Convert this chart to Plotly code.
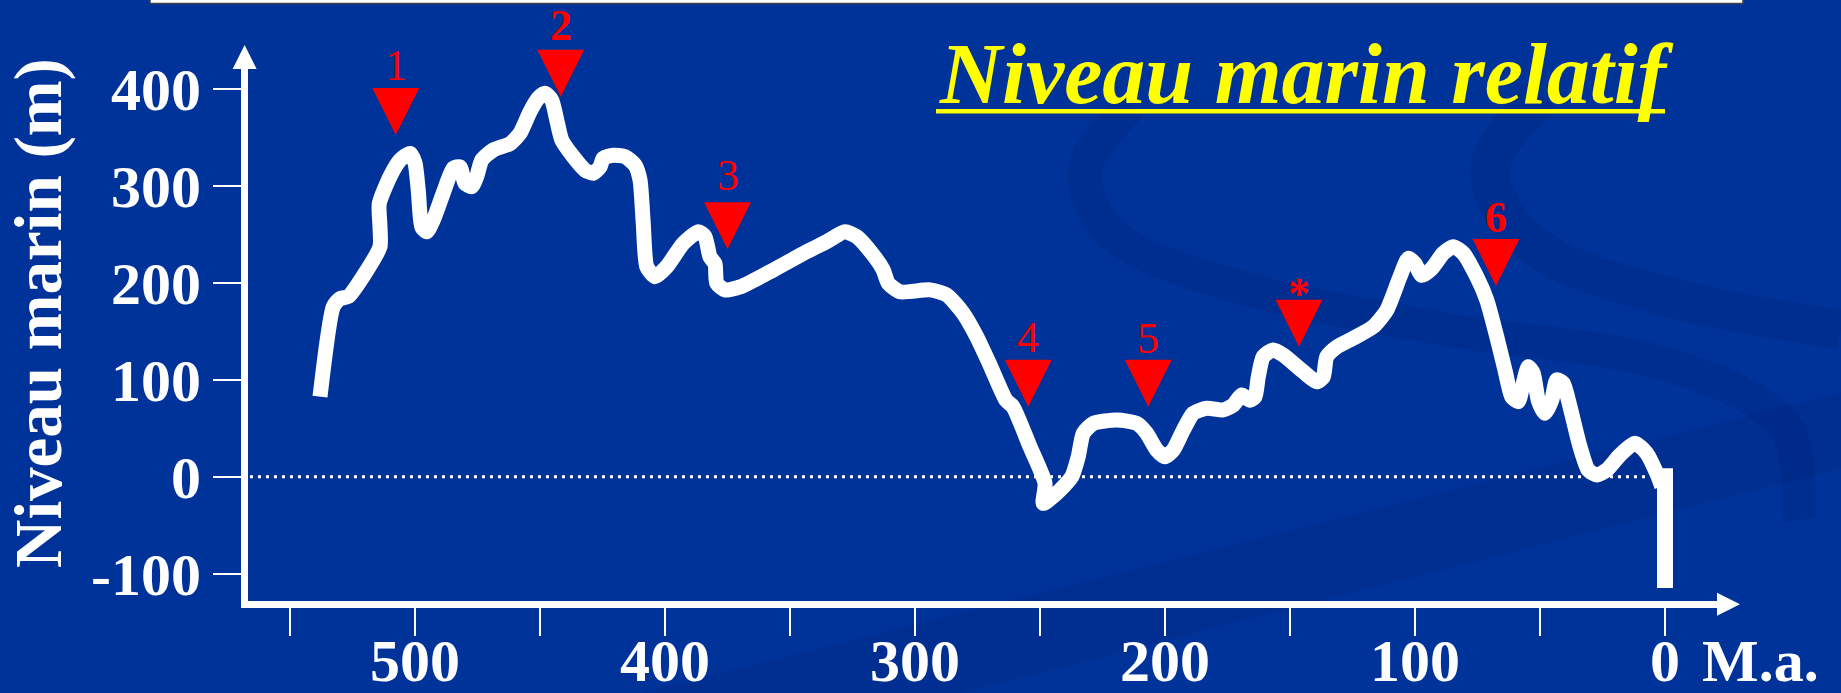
import plotly.graph_objects as go

# ---------------- data ----------------
age_ma = [538, 532.7, 530, 526.7, 520, 514, 514, 514.3, 510, 506, 502, 500, 498.7, 497.3,
          495.3, 492.7, 488.7, 484.7, 482, 480, 477.3, 475.3, 473.3, 468.7, 462, 458, 454,
          450.7, 448, 445.3, 443.3, 441.3, 436.7, 432, 428.7, 426, 424.7, 420.7, 416, 412,
          410, 408.7, 407.3, 404, 399.3, 392.7, 386.7, 384, 382, 380, 379.3, 376, 370,
          356.7, 343.3, 335.3, 328, 323.3, 316.7, 312.7, 310.7, 306, 294, 287.3, 280.7,
          275.3, 270, 263.6, 260.8, 254, 248, 248.7, 243.3, 237.3, 234.7, 232.7, 228.7,
          219.3, 211.3, 207.3, 203.3, 200, 196.7, 192.7, 188.7, 183.3, 176.7, 172.7, 169.3,
          166, 164, 162.7, 160.7, 156.7, 152.7, 144.7, 139.3, 136.7, 135.3, 131.3, 124.7,
          116.7, 111.3, 106, 102.7, 100, 97.3, 93.3, 88.7, 84.7, 80.7, 75.3, 71.3, 67.3,
          64, 61.3, 58.7, 56.7, 54.7, 52.7, 50.7, 48, 45.3, 43.3, 40.7, 38, 34, 30.7, 27.3,
          23.3, 18, 12, 7.3, 3.3, 1.3]
sea_level_m = [82.6, 175.6, 184, 186, 210, 237.6, 258, 282, 310, 327, 334, 324, 296, 258,
               253, 265, 293, 318.6, 320, 303, 299.6, 310, 327, 337.5, 344, 354.7, 377,
               391, 396, 389, 368.5, 347.8, 330.6, 316.8, 313.4, 320, 329, 332, 330.6, 322,
               306.5, 261.8, 217, 206.6, 217, 241, 253, 248, 227, 220, 199.8, 193, 196,
               213.5, 232.4, 242.8, 253, 248, 229, 213.5, 199.8, 191, 193, 187.7, 168.8,
               144.6, 115.4, 79, 72.3, 31, -6.8, -27.5, -17, 0, 20.7, 44.8, 55,
               58.6, 55, 44.8, 27.6, 20.7, 27.6, 48, 65.5, 70.7, 69, 74, 84.4,
               79, 82.6, 103, 124, 131, 125.7, 108.5, 98, 103, 124, 134, 143,
               155, 172, 206.6, 225.6, 220, 208, 215, 230.8, 237.6, 230.8, 206.6, 182.5, 144.6,
               110, 82.6, 77.5, 96.5, 113.6, 106.8, 79, 65.5, 79, 100, 96.5, 72.3, 31, 6.9, 1.8,
               6.9, 22.4, 34.5, 24.2, 3.5, -10]

present_bar_age = [0, 0]
present_bar_level = [8.7, -115]

zero_line_age = [566, 7]
zero_line_level = [0, 0]

event_labels = ["1", "2", "3", "4", "5", "*", "6"]
event_age = [507.7, 441.7, 375, 254.7, 206.7, 146.4, 67.6]
event_level = [353, 392.6, 235, 72.3, 72.3, 134.3, 197]

x_tickvals = [550, 500, 450, 400, 350, 300, 250, 200, 150, 100, 50, 0]
x_ticktext = ["", "500", "", "400", "", "300", "", "200", "", "100", "", "0"]
y_tickvals = [-100, 0, 100, 200, 300, 400]
y_ticktext = ["-100", "0", "100", "200", "300", "400"]

title_text = "Niveau marin relatif"
y_title_text = "Niveau marin (m)"
x_unit_text = "M.a."

# ---------------- layout geometry ----------------
W, H = 1841, 693
PL, PR, PT, PB = 248, 1720, 55, 601
X_RANGE = [566.8, -22]
Y_RANGE = [-128.4, 435.6]
BG = "#003399"
SERIF = "Liberation Serif"


def pxx(px):
    return (px - PL) / (PR - PL)


def pxy(py):
    return (PB - py) / (PB - PT)


def path_from_px(points, close=False):
    s = "M " + " L ".join(f"{pxx(x):.5f},{pxy(y):.5f}" for x, y in points)
    return s + (" Z" if close else "")


def curve_from_px(points):
    pts = [(pxx(x), pxy(y)) for x, y in points]
    d = f"M {pts[0][0]:.5f},{pts[0][1]:.5f}"
    for i in range(len(pts) - 1):
        p0 = pts[i - 1] if i > 0 else pts[i]
        p1 = pts[i]
        p2 = pts[i + 1]
        p3 = pts[i + 2] if i + 2 < len(pts) else p2
        c1 = (p1[0] + (p2[0] - p0[0]) / 6, p1[1] + (p2[1] - p0[1]) / 6)
        c2 = (p2[0] - (p3[0] - p1[0]) / 6, p2[1] - (p3[1] - p1[1]) / 6)
        d += f" C {c1[0]:.5f},{c1[1]:.5f} {c2[0]:.5f},{c2[1]:.5f} {p2[0]:.5f},{p2[1]:.5f}"
    return d


fig = go.Figure()

fig.add_trace(go.Scatter(x=zero_line_age, y=zero_line_level, mode="lines",
                         line=dict(color="white", width=3, dash="3px,5px"),
                         hoverinfo="skip", showlegend=False, cliponaxis=False))

fig.add_trace(go.Scatter(x=age_ma, y=sea_level_m, mode="lines",
                         line=dict(color="white", width=15, shape="spline", smoothing=0.6),
                         showlegend=False))

fig.add_trace(go.Scatter(x=present_bar_age, y=present_bar_level, mode="lines",
                         line=dict(color="white", width=16),
                         showlegend=False))

fig.add_trace(go.Scatter(x=event_age, y=event_level, mode="markers",
                         marker=dict(symbol="arrow-down", size=47, color="#FF0000",
                                     line=dict(width=0)),
                         showlegend=False, cliponaxis=False))

label_shift = [42.6, 44.6, 47.6, 43, 42, 27, 42]
label_weight = ["normal", "bold", "normal", "normal", "normal", "bold", "bold"]
annotations = []
for lab, a, v, sh, wt in zip(event_labels, event_age, event_level, label_shift, label_weight):
    annotations.append(dict(x=a, y=v, xref="x", yref="y", text=lab, showarrow=False,
                            xanchor="center", yanchor="bottom", yshift=sh,
                            font=dict(family=SERIF, size=44, color="#FF0000", weight=wt)))

annotations.append(dict(x=pxx(937), y=pxy(74), xref="paper", yref="paper",
                        text=title_text, showarrow=False, xanchor="left", yanchor="middle",
                        font=dict(family=SERIF, size=86, color="#FFFF00", weight="bold",
                                  style="italic")))
annotations.append(dict(x=pxx(38), y=pxy(313), xref="paper", yref="paper",
                        text=y_title_text, showarrow=False, textangle=-90,
                        xanchor="center", yanchor="middle",
                        font=dict(family=SERIF, size=67, color="white", weight="bold")))
annotations.append(dict(x=0, y=0, xref="x", yref="paper", text=x_unit_text,
                        showarrow=False, xanchor="left", yanchor="top",
                        xshift=37, yshift=-26.5, borderpad=0, borderwidth=0,
                        font=dict(family=SERIF, size=60, color="white", weight="bold")))

shapes = []
swirl = "rgba(0,25,105,0.18)"
shapes.append(dict(type="path", xref="paper", yref="paper", layer="below",
                   path=path_from_px([(640, 693), (1841, 392), (1841, 468), (960, 693)], close=True),
                   fillcolor="rgba(0,30,110,0.18)", line=dict(width=0)))
shapes.append(dict(type="path", xref="paper", yref="paper", layer="below",
                   path=curve_from_px([(1130, 105), (1085, 170), (1120, 240), (1250, 290),
                                       (1450, 330), (1650, 360), (1780, 420), (1800, 520)]),
                   line=dict(color=swirl, width=34)))
shapes.append(dict(type="path", xref="paper", yref="paper", layer="below",
                   path=curve_from_px([(1540, 95), (1490, 170), (1540, 250), (1680, 300),
                                       (1841, 330)]),
                   line=dict(color=swirl, width=40)))
# title underline
shapes.append(dict(type="rect", xref="paper", yref="paper", layer="above",
                   x0=pxx(936), x1=pxx(1665), y0=pxy(113.5), y1=pxy(109),
                   fillcolor="#FFFF00", line=dict(width=0)))
# top white box (cut off)
shapes.append(dict(type="rect", xref="paper", yref="paper", layer="above",
                   x0=pxx(150), x1=pxx(1743), y0=pxy(3.5), y1=pxy(-10),
                   fillcolor="white", line=dict(color="#404040", width=1.5)))
# axis arrowheads
shapes.append(dict(type="path", xref="paper", yref="paper", layer="above",
                   path=path_from_px([(244.6, 45), (232.6, 69), (256.6, 69)], close=True),
                   fillcolor="white", line=dict(width=0)))
shapes.append(dict(type="path", xref="paper", yref="paper", layer="above",
                   path=path_from_px([(1740, 604.3), (1717, 592.8), (1717, 615.8)], close=True),
                   fillcolor="white", line=dict(width=0)))

tickfont = dict(family=SERIF, size=60, color="white", weight="bold")
fig.update_layout(
    width=W, height=H,
    margin=dict(l=PL, r=W - PR, t=PT, b=H - PB, pad=0, autoexpand=False),
    paper_bgcolor=BG, plot_bgcolor="rgba(0,0,0,0)",
    showlegend=False,
    xaxis=dict(range=X_RANGE, showgrid=False, zeroline=False, showline=True,
               linecolor="white", linewidth=7, ticks="outside", ticklen=28,
               tickwidth=2, tickcolor="white", tickvals=x_tickvals, ticktext=x_ticktext,
               tickfont=tickfont, fixedrange=True, automargin=False,
               ticklabelstandoff=-27),
    yaxis=dict(range=Y_RANGE, showgrid=False, zeroline=False, showline=True,
               linecolor="white", linewidth=7, ticks="outside", ticklen=28,
               tickwidth=2, tickcolor="white", tickvals=y_tickvals, ticktext=y_ticktext,
               tickfont=tickfont, fixedrange=True, automargin=False),
    annotations=annotations,
    shapes=shapes,
)

fig.write_html("out.html")
